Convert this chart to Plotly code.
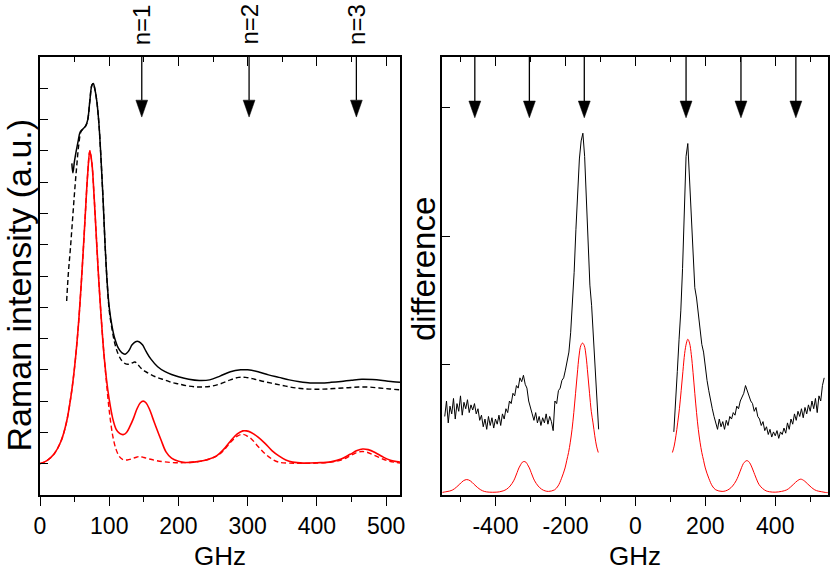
import numpy as np
import plotly.graph_objects as go

# ---------------- left panel: Raman spectra ----------------
meas_x = [46, 47.5, 50, 55, 58, 62, 66, 69, 72, 75, 77, 79, 82, 85, 88, 91, 94, 97, 100,
          104, 108, 113, 118, 123, 128, 133, 138, 143, 148, 153, 160, 170, 180, 190, 200,
          215, 230, 245, 260, 275, 290, 300, 315, 330, 345, 360, 375, 390, 405, 420, 435,
          450, 465, 480, 495, 510, 520]
meas_y = [9.6, 9.3, 9.7, 10.3, 10.6, 10.7, 10.8, 11.0, 11.6, 12.1, 12.15, 12.0, 11.6, 10.9,
          9.8, 8.5, 7.0, 5.8, 5.0, 4.4, 4.0, 3.7, 3.55, 3.5, 3.6, 3.8, 3.9, 3.9, 3.8, 3.6,
          3.35, 3.1, 2.95, 2.85, 2.78, 2.7, 2.66, 2.68, 2.8, 2.94, 3.0, 3.0, 2.94, 2.84,
          2.76, 2.68, 2.62, 2.58, 2.58, 2.6, 2.63, 2.67, 2.7, 2.69, 2.66, 2.62, 2.6]

fit_x = [38.5, 41, 44, 47, 50, 53, 56, 59, 62, 66, 69, 72, 75, 77, 79, 82, 85, 88, 91, 94,
         97, 100, 104, 108, 113, 118, 123, 128, 133, 137, 141, 146, 152, 160, 170, 180, 190,
         200, 215, 230, 245, 260, 275, 287, 297, 310, 325, 340, 355, 370, 385, 400, 415,
         430, 445, 460, 475, 490, 505, 520]
fit_y = [5.2, 6.1, 6.9, 7.8, 8.7, 9.5, 10.2, 10.6, 10.7, 10.8, 11.0, 11.6, 12.1, 12.15, 12.0,
         11.6, 10.9, 9.8, 8.5, 7.0, 5.8, 4.9, 4.3, 3.85, 3.5, 3.3, 3.2, 3.18, 3.22, 3.25,
         3.18, 3.05, 2.95, 2.85, 2.75, 2.68, 2.6, 2.55, 2.48, 2.45, 2.47, 2.55, 2.68, 2.76,
         2.76, 2.7, 2.62, 2.55, 2.48, 2.42, 2.39, 2.38, 2.39, 2.41, 2.43, 2.45, 2.45, 2.42,
         2.39, 2.36]

calc_x = [0, 10, 20, 30, 38, 45, 50, 55, 60, 65, 69, 72, 75, 78, 81, 84, 88, 92, 96, 100,
          105, 110, 115, 120, 125, 130, 135, 140, 145, 149, 153, 158, 163, 168, 175, 182,
          190, 200, 210, 225, 240, 255, 265, 275, 285, 293, 298, 305, 315, 325, 335, 345,
          355, 365, 380, 400, 420, 435, 448, 458, 466, 474, 484, 495, 505, 520]
calc_y = [0.0, 0.1, 0.3, 0.7, 1.3, 2.2, 3.1, 4.3, 5.9, 7.8, 9.3, 10.0, 9.6, 8.6, 7.4, 6.2,
          4.8, 3.6, 2.7, 2.05, 1.45, 1.1, 0.97, 0.93, 1.0, 1.2, 1.45, 1.75, 1.95, 2.0, 1.95,
          1.75, 1.45, 1.15, 0.75, 0.38, 0.18, 0.08, 0.04, 0.06, 0.12, 0.25, 0.45, 0.72, 0.95,
          1.05, 1.05, 1.0, 0.85, 0.65, 0.42, 0.25, 0.12, 0.05, 0.02, 0.03, 0.06, 0.15, 0.3,
          0.42, 0.47, 0.45, 0.36, 0.22, 0.12, 0.05]

single_x = [0, 10, 20, 30, 38, 45, 50, 55, 60, 65, 69, 72, 75, 78, 81, 84, 88, 92, 96, 100,
            105, 110, 115, 120, 126, 132, 138, 144, 150, 158, 168, 180, 200, 225, 240, 255,
            265, 275, 285, 292, 298, 305, 315, 325, 335, 345, 360, 380, 400, 420, 435, 448,
            458, 465, 472, 482, 495, 505, 520]
single_y = [0.0, 0.1, 0.3, 0.7, 1.3, 2.2, 3.1, 4.3, 5.9, 7.8, 9.3, 10.0, 9.6, 8.6, 7.4, 6.2,
            4.8, 3.6, 2.6, 1.7, 0.9, 0.45, 0.22, 0.13, 0.12, 0.15, 0.2, 0.23, 0.2, 0.15, 0.1,
            0.06, 0.03, 0.06, 0.12, 0.24, 0.42, 0.68, 0.88, 0.94, 0.9, 0.8, 0.55, 0.32, 0.15,
            0.05, 0.02, 0.01, 0.02, 0.05, 0.12, 0.25, 0.36, 0.39, 0.37, 0.28, 0.15, 0.08, 0.02]

mode_pos = [147, 302, 457]
mode_labels = ["n=1", "n=2", "n=3"]

# ---------------- right panel: difference spectra ----------------
diff_neg_y = [0.60, 0.72, 0.55, 0.68, 0.62, 0.74, 0.58, 0.70, 0.64, 0.76, 0.61, 0.71, 0.66,
              0.73, 0.63, 0.69, 0.65, 0.70, 0.62, 0.66, 0.57, 0.61, 0.52, 0.58, 0.50, 0.60,
              0.53, 0.59, 0.51, 0.58, 0.54, 0.61, 0.53, 0.62, 0.58, 0.66, 0.63, 0.72, 0.70,
              0.78, 0.76, 0.84, 0.82, 0.90, 0.87, 0.92, 0.85, 0.82, 0.72, 0.66, 0.62, 0.57,
              0.63, 0.55, 0.60, 0.53, 0.59, 0.55, 0.62, 0.54, 0.60, 0.56, 0.49, 0.72, 0.70,
              0.80, 0.82, 0.88, 0.90, 0.96, 1.02, 1.10, 1.25, 1.45, 1.72, 2.05, 2.38, 2.60,
              2.74, 2.80, 2.62, 2.32, 1.98, 1.62, 1.46, 1.22, 1.00, 0.78, 0.50]
diff_pos_y = [0.48, 0.68, 0.95, 1.20, 1.42, 1.75, 2.30, 2.62, 2.72, 2.45, 2.18, 1.95, 1.60,
              1.52, 1.40, 1.28, 1.16, 1.10, 0.98, 0.88, 0.80, 0.72, 0.66, 0.60, 0.55, 0.50,
              0.58, 0.52, 0.56, 0.50, 0.57, 0.53, 0.60, 0.58, 0.63, 0.61, 0.68, 0.66, 0.72,
              0.75, 0.78, 0.84, 0.80, 0.76, 0.72, 0.70, 0.64, 0.67, 0.60, 0.58, 0.53, 0.56,
              0.49, 0.52, 0.46, 0.50, 0.44, 0.48, 0.45, 0.49, 0.43, 0.48, 0.46, 0.51, 0.47,
              0.55, 0.50, 0.58, 0.54, 0.62, 0.57, 0.64, 0.60, 0.66, 0.59, 0.67, 0.62, 0.69,
              0.64, 0.72, 0.66, 0.74, 0.63, 0.76, 0.72, 0.84, 0.90]
diff_neg_x = -545 + 5 * np.arange(len(diff_neg_y))
diff_pos_x = 110 + 5 * np.arange(len(diff_pos_y))

lor_neg_x = [-552, -542, -532, -522, -512, -502, -492, -482, -472, -462, -452, -442, -432,
             -418, -398, -388, -378, -368, -358, -348, -343, -338, -333, -328, -323, -318,
             -313, -308, -303, -298, -293, -288, -278, -268, -258, -248, -231, -221, -211,
             -201, -196, -191, -186, -181, -176, -171, -166, -161, -156, -151, -146, -141,
             -136, -131, -126, -121, -116, -111, -106]
lor_neg_y = [0.01, 0.015, 0.02, 0.03, 0.05, 0.075, 0.1, 0.11, 0.1, 0.075, 0.05, 0.03, 0.018,
             0.012, 0.012, 0.015, 0.022, 0.035, 0.06, 0.1, 0.13, 0.165, 0.2, 0.225, 0.245,
             0.25, 0.245, 0.225, 0.2, 0.165, 0.13, 0.1, 0.06, 0.035, 0.022, 0.018, 0.03,
             0.06, 0.12, 0.2, 0.26, 0.32, 0.4, 0.5, 0.63, 0.78, 0.93, 1.07, 1.15, 1.17, 1.15,
             1.07, 0.93, 0.78, 0.64, 0.55, 0.45, 0.37, 0.32]
lor_pos_x = [106, 111, 116, 121, 126, 131, 136, 141, 146, 150, 155, 160, 165, 170, 175, 180,
             185, 190, 195, 200, 210, 220, 230, 248, 258, 268, 278, 288, 294, 299, 304, 309,
             314, 319, 324, 329, 334, 339, 344, 354, 364, 374, 384, 400, 418, 433, 443, 453,
             463, 473, 483, 493, 503, 513, 523, 533, 543, 552]
lor_pos_y = [0.32, 0.37, 0.45, 0.55, 0.66, 0.8, 0.95, 1.09, 1.17, 1.2, 1.17, 1.08, 0.94,
             0.78, 0.63, 0.5, 0.4, 0.32, 0.26, 0.2, 0.12, 0.06, 0.03, 0.018, 0.022, 0.035,
             0.06, 0.1, 0.135, 0.17, 0.205, 0.235, 0.25, 0.257, 0.25, 0.23, 0.2, 0.165, 0.13,
             0.07, 0.04, 0.022, 0.015, 0.012, 0.018, 0.03, 0.05, 0.075, 0.1, 0.113, 0.1,
             0.075, 0.05, 0.03, 0.02, 0.015, 0.01, 0.008]

sat_pos = [-459, -303, -146, 145, 302, 459]

left_ticks = [0, 100, 200, 300, 400, 500]
right_ticks = [-400, -200, 0, 200, 400]
right_ticktext = ["-400", "-200", "0", "200", "400"]

FONT = "Liberation Sans, Arial, sans-serif"
BLACK = "#000000"
RED = "#ff0000"
W, H = 830, 572


def px(xp):
    return xp / W


def py(yp):
    return (H - yp) / H


fig = go.Figure()

# left panel traces
fig.add_trace(go.Scatter(x=fit_x, y=fit_y, mode="lines", line_shape="spline",
                         line=dict(color=BLACK, width=1.4, dash="5px,3px"),
                         xaxis="x", yaxis="y"))
fig.add_trace(go.Scatter(x=meas_x, y=meas_y, mode="lines", line_shape="spline",
                         line=dict(color=BLACK, width=1.5), xaxis="x", yaxis="y"))
fig.add_trace(go.Scatter(x=single_x, y=single_y, mode="lines", line_shape="spline",
                         line=dict(color=RED, width=1.4, dash="5px,3px"),
                         xaxis="x", yaxis="y"))
fig.add_trace(go.Scatter(x=calc_x, y=calc_y, mode="lines", line_shape="spline",
                         line=dict(color=RED, width=1.6), xaxis="x", yaxis="y"))

# right panel traces
for xs, ys in [(diff_neg_x, diff_neg_y), (diff_pos_x, diff_pos_y)]:
    fig.add_trace(go.Scatter(x=xs, y=ys, mode="lines",
                             line=dict(color=BLACK, width=1), xaxis="x2", yaxis="y2"))
for xs, ys in [(lor_neg_x, lor_neg_y), (lor_pos_x, lor_pos_y)]:
    fig.add_trace(go.Scatter(x=xs, y=ys, mode="lines", line_shape="spline",
                             line=dict(color=RED, width=1), xaxis="x2", yaxis="y2"))

# invisible traces so the top tick axes get drawn
fig.add_trace(go.Scatter(x=[0, 520], y=[0, 0], mode="lines", line=dict(width=0),
                         opacity=0, xaxis="x3", yaxis="y"))
fig.add_trace(go.Scatter(x=[-550, 550], y=[0, 0], mode="lines", line=dict(width=0),
                         opacity=0, xaxis="x4", yaxis="y2"))

dom1 = [px(40), px(400)]
dom2 = [px(442.3), px(827.7)]
ydom = [py(495), py(57)]

ax_common = dict(showline=True, linewidth=1.5, linecolor=BLACK, mirror=True,
                 showgrid=False, zeroline=False, tickcolor=BLACK, tickwidth=1.3,
                 tickfont=dict(family=FONT, size=23, color=BLACK))
minor_out = dict(ticks="outside", ticklen=5, tickcolor=BLACK, tickwidth=1.3)
minor_in = dict(ticks="inside", ticklen=5, tickcolor=BLACK, tickwidth=1.3)

fig.update_layout(
    width=W, height=H,
    margin=dict(l=0, r=0, t=0, b=0),
    paper_bgcolor="white", plot_bgcolor="white",
    showlegend=False,
    font=dict(family=FONT, color=BLACK),
    xaxis=dict(domain=dom1, range=[0, 520], anchor="y", ticks="outside", ticklen=9,
               tickvals=left_ticks, ticklabelstandoff=1, automargin=False,
               minor=dict(dtick=50, **minor_out), **ax_common),
    yaxis=dict(domain=ydom, range=[-1, 13], anchor="x", ticks="inside", ticklen=8,
               tickvals=list(range(0, 13)), showticklabels=False, automargin=False,
               **ax_common),
    xaxis3=dict(overlaying="x", side="top", range=[0, 520], anchor="y", ticks="inside",
                ticklen=9, tickvals=left_ticks, showticklabels=False, showline=False,
                showgrid=False, zeroline=False, tickcolor=BLACK, tickwidth=1.3,
                minor=dict(dtick=50, **minor_in)),
    xaxis2=dict(domain=dom2, range=[-552, 550], anchor="y2", ticks="outside", ticklen=9,
                tickvals=right_ticks, ticktext=right_ticktext, ticklabelstandoff=1,
                automargin=False, minor=dict(dtick=100, **minor_out), **ax_common),
    yaxis2=dict(domain=ydom, range=[-0.01, 3.392], anchor="x2", ticks="inside",
                ticklen=8, tickvals=[1, 2, 3], showticklabels=False, automargin=False,
                **ax_common),
    xaxis4=dict(overlaying="x2", side="top", range=[-552, 550], anchor="y2",
                ticks="inside", ticklen=9, tickvals=right_ticks, showticklabels=False,
                showline=False, showgrid=False, zeroline=False, tickcolor=BLACK,
                tickwidth=1.3, minor=dict(dtick=100, **minor_in)),
)

# arrows: line from top border + narrow filled head
shapes = []


def add_arrows(xs, xref, yref, ytop, ybase, ytip, halfw):
    for xv in xs:
        shapes.append(dict(type="line", xref=xref, yref=yref, x0=xv, x1=xv, y0=ytop,
                           y1=ybase, line=dict(color=BLACK, width=1.3)))
        shapes.append(dict(type="path", xref=xref, yref=yref,
                           path=f"M {xv - halfw},{ybase} L {xv + halfw},{ybase} L {xv},{ytip} Z",
                           fillcolor=BLACK, line=dict(color=BLACK, width=0.5)))


add_arrows(mode_pos, "x", "y", 13, 11.62, 11.08, 8.5)
add_arrows(sat_pos, "x2", "y2", 3.392, 3.05, 2.92, 17)
fig.update_layout(shapes=shapes)

annotations = []
for xv, lab in zip(mode_pos, mode_labels):
    annotations.append(dict(x=xv, xref="x", y=py(47), yref="paper", text=lab,
                            textangle=-90, showarrow=False, xanchor="center",
                            yanchor="bottom", font=dict(family=FONT, size=24, color=BLACK)))
annotations += [
    dict(x=px(18), y=py(285.5), xref="paper", yref="paper",
         text="Raman intensity (a.u.)", textangle=-90, showarrow=False,
         xanchor="center", yanchor="middle",
         font=dict(family=FONT, size=34, color=BLACK)),
    dict(x=px(423), y=py(269), xref="paper", yref="paper",
         text="difference", textangle=-90, showarrow=False,
         xanchor="center", yanchor="middle",
         font=dict(family=FONT, size=33, color=BLACK)),
    dict(x=(dom1[0] + dom1[1]) / 2, y=py(556), xref="paper", yref="paper",
         text="GHz", showarrow=False, xanchor="center", yanchor="middle",
         font=dict(family=FONT, size=26, color=BLACK)),
    dict(x=(dom2[0] + dom2[1]) / 2, y=py(556), xref="paper", yref="paper",
         text="GHz", showarrow=False, xanchor="center", yanchor="middle",
         font=dict(family=FONT, size=26, color=BLACK)),
]
fig.update_layout(annotations=annotations)

# the page body margin would shift the figure; drop it so positions match
fig.write_html("out.html", config={"displayModeBar": False},
               post_script="document.body.style.margin='0';")
